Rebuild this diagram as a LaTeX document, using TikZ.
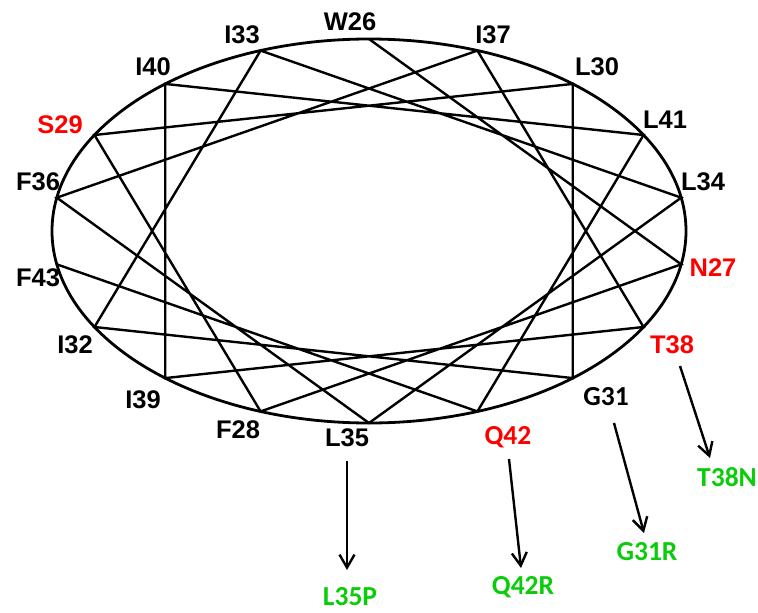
\documentclass[tikz,border=0pt]{standalone}
\usepackage{fontspec}
\usetikzlibrary{arrows.meta,calc}
\setmainfont{Liberation Sans}
\newfontfamily\arialb{Liberation Sans}[UprightFont=*-Bold]
\newfontfamily\calib{Carlito}[UprightFont=*-Bold]
\definecolor{resred}{RGB}{255,0,0}
\definecolor{mutgreen}{RGB}{10,205,10}
\tikzset{
  res/.style={font=\arialb\fontsize{25.5}{25.5}\selectfont, inner sep=0pt},
  resc/.style={font=\calib\fontsize{27.5}{27.5}\selectfont, inner sep=0pt},
  mutant/.style={resc, text=mutgreen},
  chord/.style={line width=2.4pt, line join=miter},
  rim/.style={line width=2.8pt},
  mutarrow/.style={line width=2.4pt, -{Straight Barb[length=13pt,width=15pt,line width=2.4pt]}}
}
\begin{document}
\begin{tikzpicture}[x=1pt,y=-1pt]
\useasboundingbox (0,0) rectangle (758,613);

% helical wheel: residue r sits at 100 degrees per residue around the ellipse
\foreach \r in {26,...,43}{
  \pgfmathsetmacro\ang{20*mod(5*(\r-26),18)}
  \coordinate (r\r) at ({369+317*sin(\ang)},{231-192*cos(\ang)});
}
\draw[rim] (369,231) ellipse [x radius=317pt, y radius=192pt];
\draw[chord] (r26) \foreach \r in {27,...,43}{ -- (r\r)};

% residue labels
\node[res] (lW26) at (350,22) {W26};
\node[res] (lI37) at (493,35) {I37};
\node[res] (lL30) at (597,67) {L30};
\node[res] (lL41) at (665,120) {L41};
\node[res] (lL34) at (703,182) {L34};
\node[res, text=resred] (lN27) at (713,268) {N27};
\node[res, text=resred] (lT38) at (672,345) {T38};
\node[resc] (lG31) at (606,397) {G31};
\node[resc, text=resred] (lQ42) at (508,437) {Q42};
\node[res] (lL35) at (347,438) {L35};
\node[res] (lF28) at (238,430) {F28};
\node[res] (lI39) at (143,400) {I39};
\node[res] (lI32) at (75,345) {I32};
\node[res] (lF43) at (38,278) {F43};
\node[res] (lF36) at (38,182) {F36};
\node[res, text=resred] (lS29) at (60,125) {S29};
\node[res] (lI40) at (153,67) {I40};
\node[res] (lI33) at (242,35) {I33};

% mutations
\node[mutant] (mT38N) at (727,477) {T38N};
\node[mutant] (mG31R) at (647,552) {G31R};
\node[mutant] (mQ42R) at (523,587) {Q42R};
\node[mutant] (mL35P) at (350,597) {L35P};

\draw[mutarrow] ($(lL35)+(0,23)$) -- ($(mL35P)+(-3,-27)$);
\draw[mutarrow] ($(lQ42)+(1,22)$) -- ($(mQ42R)+(-2,-19)$);
\draw[mutarrow] ($(lG31)+(8,26)$) -- ($(mG31R)+(-3,-19)$);
\draw[mutarrow] ($(lT38)+(8,21)$) -- ($(mT38N)+(-17,-19)$);
\end{tikzpicture}
\end{document}
